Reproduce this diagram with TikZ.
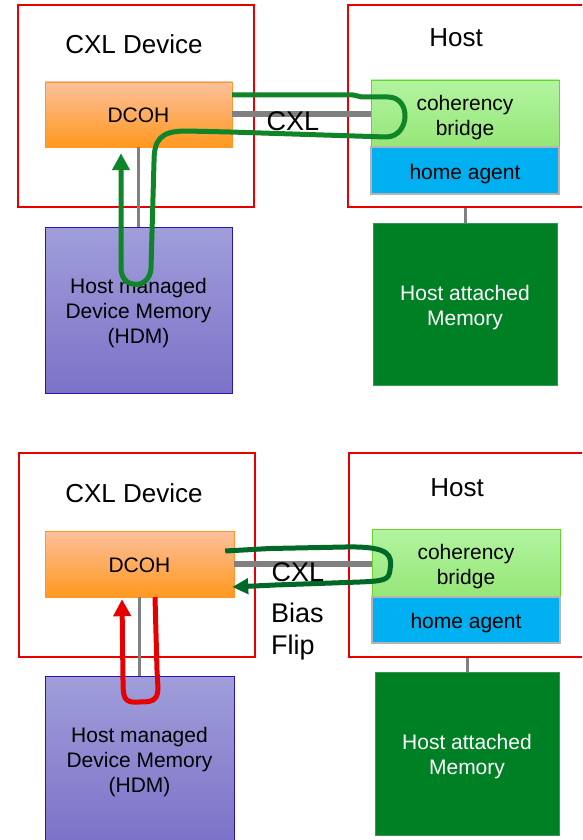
\documentclass[tikz,border=0pt]{standalone}
\usepackage{fontspec}
\setmainfont{Liberation Sans}
\usepackage{xcolor}
\definecolor{cxlred}{RGB}{232,0,0}
\definecolor{cxlgray}{RGB}{128,128,128}
\definecolor{hagray}{RGB}{180,180,180}
\definecolor{dcohtop}{RGB}{253,192,156}
\definecolor{dcohbot}{RGB}{255,152,30}
\definecolor{dcohline}{RGB}{255,150,40}
\definecolor{bridgetop}{RGB}{178,244,160}
\definecolor{bridgebot}{RGB}{150,230,120}
\definecolor{bridgeline}{RGB}{102,214,40}
\definecolor{hablue}{RGB}{0,176,240}
\definecolor{hdmtop}{RGB}{160,158,218}
\definecolor{hdmbot}{RGB}{124,114,200}
\definecolor{hdmline}{RGB}{40,20,180}
\definecolor{memgreen}{RGB}{0,128,36}
\definecolor{flowgreen}{RGB}{16,132,40}
\definecolor{flowdkgreen}{RGB}{0,104,40}
\definecolor{flowred}{RGB}{230,0,0}
\usetikzlibrary{arrows.meta,calc}

\begin{document}
\begin{tikzpicture}[
  x=1pt,y=-1pt,
  cxlpanel/.style={draw=cxlred,line width=2.5pt,inner sep=0pt},
  cxlblock/.style={minimum width=188pt,inner sep=0pt},
  cxltext/.style={inner sep=0pt,align=center,font=\fontsize{21}{25}\selectfont},
  cxltitle/.style={inner sep=0pt,font=\fontsize{26}{31}\selectfont},
  cxlbuslabel/.style={inner sep=0pt,align=left,font=\fontsize{27}{32}\selectfont},
  cxllink/.style={draw=cxlgray,line width=3pt},
  cxlbus/.style={draw=cxlgray,line width=6pt},
  flowloop/.style={line width=5pt,line join=round,-{Triangle[length=17pt,width=17pt]}}
]
  \useasboundingbox (0,0) rectangle (582,840);
  \clip (0,0) rectangle (582,840);

  \node[cxlpanel,minimum width=236pt,minimum height=202pt] (cxldev1) at (136,106) {};
  \node[cxlpanel,minimum width=252pt,minimum height=202pt] (host1) at (474,106) {};
  \node[cxltitle] (cxldevlbl1) at (134,44) {CXL Device};
  \node[cxltitle] (hostlbl1) at (456,38) {Host};
  \node[cxlblock,minimum width=187pt,minimum height=65pt,top color=dcohtop,bottom color=dcohbot,draw=dcohline] (dcoh1) at (138.5,114.5) {};
  \node[cxlblock,minimum height=67pt,top color=bridgetop,bottom color=bridgebot,draw=bridgeline] (bridge1) at (465,113.5) {};
  \node[cxlblock,minimum height=47pt,fill=hablue,draw=hagray,line width=2pt] (homeagent1) at (465,170.5) {};
  \node[cxlblock,minimum width=187pt,minimum height=166pt,top color=hdmtop,bottom color=hdmbot,draw=hdmline] (hdm1) at (138.5,310) {};
  \node[cxlblock,minimum width=184pt,minimum height=162pt,fill=memgreen,draw=memgreen!80!white] (hostmem1) at (465,304) {};
  \node[cxltext] (dcohtxt1) at ([yshift=-1pt]dcoh1.center) {DCOH};
  \node[cxltext] (bridgetxt1) at ([yshift=-4pt]bridge1.center) {coherency\\bridge};
  \node[cxltext] (homeagenttxt1) at ([yshift=-3.5pt]homeagent1.center) {home agent};
  \node[cxltext] (hdmtxt1) at ([yshift=-3.5pt]hdm1.center) {Host managed\\Device Memory\\(HDM)};
  \node[cxltext,text=white] (hostmemtxt1) at ([yshift=-3.5pt]hostmem1.center) {Host attached\\Memory};
  \draw[cxlbus] (dcoh1.east) -- (dcoh1.east -| bridge1.west);
  \draw[cxllink] (dcoh1.south) -- (hdm1.north);
  \draw[cxllink] (hostmem1.north |- host1.south) -- (hostmem1.north);
  \node[cxlbuslabel] (cxllbl1) at (293,121) {CXL};
  \draw[flowloop,draw=flowgreen] ($(dcoh1.east)+(0,-19.5)$) -- (353,95) -- (362,97) -- (388,97)
    .. controls (412,97) and (410,137) .. (386,137) -- (230,132) -- (186,131)
    .. controls (160,131) and (154,140) .. (154,162) -- (151,268)
    .. controls (150,290) and (121,290) .. (121,268) -- ($(dcoh1.south)+(-17.5,6)$);

  \node[cxlpanel,minimum width=236pt,minimum height=204pt] (cxldev2) at (137,555) {};
  \node[cxlpanel,minimum width=252pt,minimum height=204pt] (host2) at (475,555) {};
  \node[cxltitle] (cxldevlbl2) at (134,493) {CXL Device};
  \node[cxltitle] (hostlbl2) at (457,488) {Host};
  \node[cxlblock,minimum width=189pt,minimum height=66pt,top color=dcohtop,bottom color=dcohbot,draw=dcohline] (dcoh2) at (139.5,564) {};
  \node[cxlblock,minimum height=67pt,top color=bridgetop,bottom color=bridgebot,draw=bridgeline] (bridge2) at (466,562.5) {};
  \node[cxlblock,minimum height=46pt,fill=hablue,draw=hagray,line width=2pt] (homeagent2) at (466,620) {};
  \node[cxlblock,minimum width=189pt,minimum height=166pt,top color=hdmtop,bottom color=hdmbot,draw=hdmline] (hdm2) at (139.5,759) {};
  \node[cxlblock,minimum width=184pt,minimum height=163pt,fill=memgreen,draw=memgreen!80!white] (hostmem2) at (467,753.5) {};
  \node[cxltext] (dcohtxt2) at ([yshift=-1pt]dcoh2.center) {DCOH};
  \node[cxltext] (bridgetxt2) at ([yshift=-4.5pt]bridge2.center) {coherency\\bridge};
  \node[cxltext] (homeagenttxt2) at ([yshift=-3.5pt]homeagent2.center) {home agent};
  \node[cxltext] (hdmtxt2) at ([yshift=-3.5pt]hdm2.center) {Host managed\\Device Memory\\(HDM)};
  \node[cxltext,text=white] (hostmemtxt2) at ([yshift=-3pt]hostmem2.center) {Host attached\\Memory};
  \draw[cxlbus] (dcoh2.east) -- (dcoh2.east -| bridge2.west);
  \draw[cxllink] (dcoh2.south) -- (hdm2.north);
  \draw[cxllink] (hostmem2.north |- host2.south) -- (hostmem2.north);
  \node[cxlbuslabel] (cxllbl2) at (298,572) {CXL};
  \node[cxlbuslabel,anchor=north west] (biaslbl2) at (271,603) {Bias\\Flip};
  \draw[flowloop,draw=flowdkgreen,-{Triangle[length=16pt,width=15pt]}] ($(dcoh2.east)+(-9,-13)$) -- (270,548.5) -- (345,547)
    .. controls (392,546) and (392,556) .. (390,570)
    .. controls (389,580) and (384,581) .. (360,582) -- (275,585) -- ($(dcoh2.east)+(-2,23)$);
  \draw[flowloop,draw=flowred] ($(dcoh2.south)+(15.5,0)$) -- (157,670) -- (158,688)
    .. controls (158,702) and (150,702) .. (138,702)
    .. controls (124,703) and (123,698) .. (123,680) -- ($(dcoh2.south)+(-17.5,2)$);
\end{tikzpicture}
\end{document}
